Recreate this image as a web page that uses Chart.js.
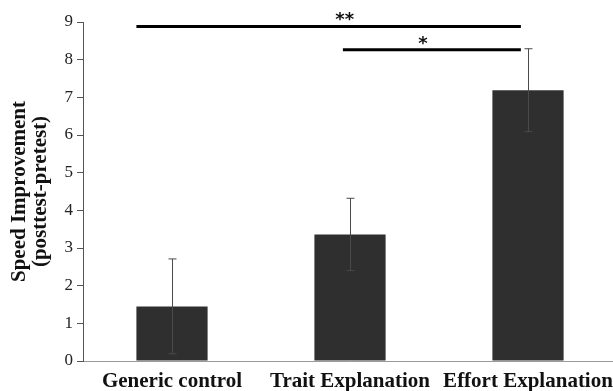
<!DOCTYPE html>
<html>
<head>
<meta charset="utf-8">
<script src="https://cdn.jsdelivr.net/npm/chart.js@4"></script>
<style>
  html, body { margin: 0; padding: 0; background: #fff; overflow: hidden; }
  #wrap { width: 613px; height: 391px; overflow: hidden; }
</style>
</head>
<body>
<div id="wrap"><canvas id="speedChart" width="617" height="391"></canvas></div>
<script>
// groups on the x axis
const categories = ['Generic control', 'Trait Explanation', 'Effort Explanation'];
// mean speed improvement and error (+/-)
const means = [1.45, 3.36, 7.19];
const errors = [1.26, 0.96, 1.10];
const yTicks = [0, 1, 2, 3, 4, 5, 6, 7, 8, 9];

// significance brackets (x in category units, y in data units)
const sigLabels = ['**', '*'];
const sigFrom = [-0.2, 0.96];
const sigTo = [1.96, 1.96];
const sigLevel = [8.88, 8.26];
const sigLabelAt = [0.97, 1.41];

const serif = '"Liberation Serif", "Times New Roman", serif';

// error bars drawn through the scales
const errorBars = {
  id: 'errorBars',
  afterDatasetsDraw(chart) {
    const { ctx, scales: { x, y } } = chart;
    ctx.save();
    ctx.strokeStyle = '#4a4a4a';
    ctx.lineWidth = 1;
    means.forEach((m, i) => {
      const px = Math.round(x.getPixelForValue(i)) + 0.5;
      const top = y.getPixelForValue(m + errors[i]);
      const bot = y.getPixelForValue(m - errors[i]);
      ctx.beginPath();
      ctx.moveTo(px, top); ctx.lineTo(px, bot);
      ctx.moveTo(px - 4, top); ctx.lineTo(px + 4, top);
      ctx.moveTo(px - 4, bot); ctx.lineTo(px + 4, bot);
      ctx.stroke();
    });
    ctx.restore();
  }
};

// significance lines + stars
const sigMarks = {
  id: 'sigMarks',
  afterDatasetsDraw(chart) {
    const { ctx, scales: { x, y } } = chart;
    ctx.save();
    ctx.strokeStyle = '#000';
    ctx.fillStyle = '#111';
    ctx.lineWidth = 3;
    ctx.textAlign = 'center';
    ctx.textBaseline = 'bottom';
    ctx.font = 'bold 18px "DejaVu Sans", sans-serif';
    sigLabels.forEach((lab, i) => {
      const py = y.getPixelForValue(sigLevel[i]);
      ctx.beginPath();
      ctx.moveTo(x.getPixelForValue(sigFrom[i]), py);
      ctx.lineTo(x.getPixelForValue(sigTo[i]), py);
      ctx.stroke();
      ctx.fillText(lab, x.getPixelForValue(sigLabelAt[i]), py + 3);
    });
    ctx.restore();
  }
};

new Chart(document.getElementById('speedChart'), {
  type: 'bar',
  data: {
    labels: categories,
    datasets: [{
      data: means,
      backgroundColor: '#2f2f2f',
      borderWidth: 0,
      barPercentage: 0.4,
      categoryPercentage: 1.0
    }]
  },
  options: {
    responsive: false,
    animation: false,
    layout: { padding: { top: 22, right: 0, bottom: 0, left: 0 } },
    plugins: { legend: { display: false }, tooltip: { enabled: false } },
    scales: {
      x: {
        afterFit(s) { s.height = 30; },
        grid: { display: false },
        border: { display: true, color: '#9a9a9a', width: 1 },
        ticks: {
          color: '#111',
          padding: 0,
          maxRotation: 0,
          font: { family: serif, size: 21, weight: 'bold' }
        }
      },
      y: {
        min: 0,
        max: 9,
        afterFit(s) { s.width = 83; },
        afterBuildTicks(s) { s.ticks = yTicks.map(v => ({ value: v })); },
        grid: { drawOnChartArea: false, drawTicks: true, tickLength: 6, color: '#555' },
        border: { display: true, color: '#555', width: 1 },
        ticks: {
          color: '#222',
          padding: 4,
          font: { family: serif, size: 17 }
        },
        title: {
          display: true,
          text: ['Speed Improvement', '(posttest-pretest)'],
          color: '#111',
          padding: { top: 9, bottom: 0 },
          font: { family: serif, size: 21, weight: 'bold', lineHeight: 1.0 }
        }
      }
    }
  },
  plugins: [errorBars, sigMarks]
});
</script>
</body>
</html>
